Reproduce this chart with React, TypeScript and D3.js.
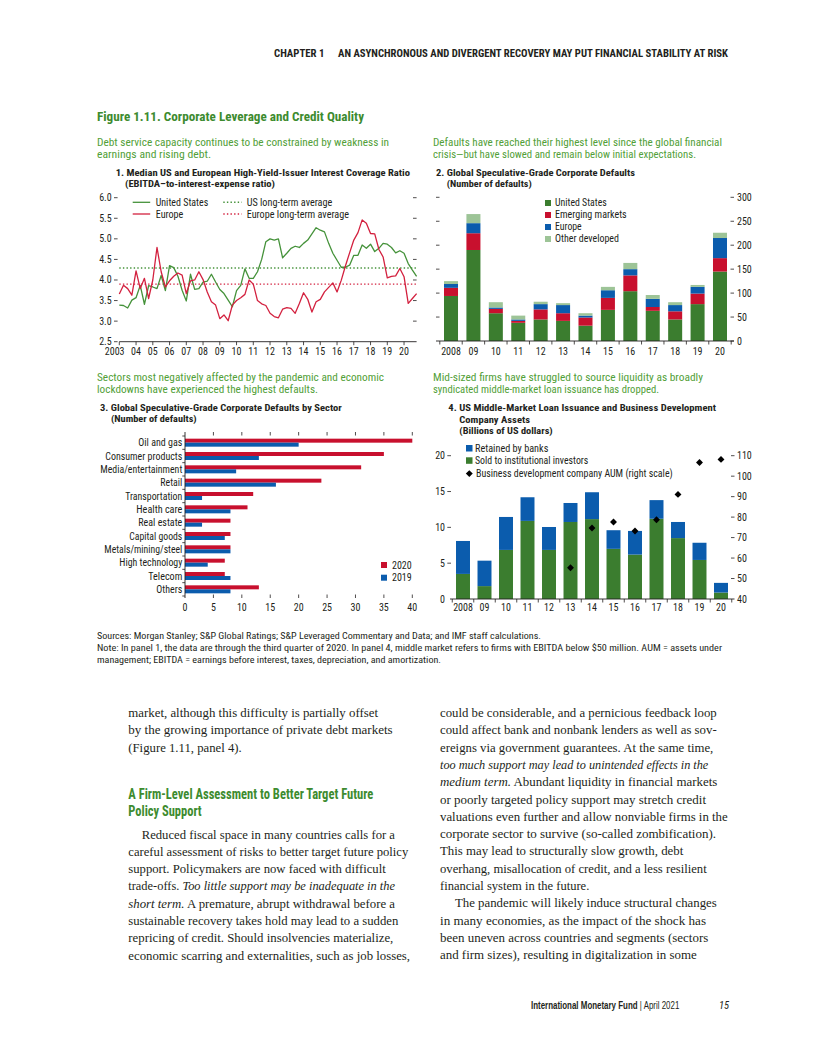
import React from "react";
import * as d3 from "d3";

const COND = '"Liberation Sans Narrow","Roboto Condensed","DejaVu Sans Condensed","Liberation Sans",Arial,sans-serif';
const SERIF = '"Liberation Serif","DejaVu Serif",serif';
const INK = "#231f20";
const TITLE_GREEN = "#3d8b2f";
const SUB_GREEN = "#52a038";

// ---------- Panel 1: interest coverage ratio (quarterly, 2003Q1 - 2020Q4 positions) ----------
const p1Quarters = d3.range(72).map((i) => 2003 + i / 4);
const usCoverage = [
  3.39, 3.38, 3.32, 3.51, 3.57, 3.87, 3.41, 3.86, 3.83, 3.79, 4.11, 3.74,
  4.35, 4.30, 4.09, 3.75, 3.49, 4.14, 3.77, 3.79, 3.95, 3.97, 4.14, 3.95,
  3.77, 3.67, 3.51, 3.35, 3.74, 3.87, 4.27, 4.04, 4.04, 4.20, 4.50, 4.93,
  5.00, 4.97, 5.00, 4.54, 4.65, 4.77, 4.82, 4.79, 4.89, 4.97, 5.12, 5.27,
  5.21, 5.17, 4.89, 4.65, 4.48, 4.31, 4.31, 4.36, 4.60, 4.60, 4.85, 4.77,
  4.87, 4.69, 4.77, 4.89, 4.87, 4.79, 4.66, 4.71, 4.65, 4.40, 4.24, 4.09,
];
const euCoverage = [
  3.66, 3.87, 3.79, 3.63, 4.22, 3.79, 4.04, 3.55, 4.00, 4.79, 4.20, 3.83,
  3.98, 4.09, 4.17, 4.12, 3.67, 3.98, 4.00, 4.20, 4.01, 3.71, 3.47, 3.39,
  3.06, 3.15, 3.01, 3.39, 3.50, 3.57, 3.65, 4.00, 3.90, 3.50, 3.42, 3.38,
  3.19, 3.11, 3.08, 3.29, 3.33, 3.31, 3.19, 3.43, 3.69, 3.53, 3.22, 3.47,
  3.53, 3.71, 3.82, 3.93, 3.71, 3.99, 4.34, 4.66, 4.97, 5.15, 5.46, 5.38,
  5.13, 5.12, 4.74, 4.56, 4.05, 4.09, 4.10, 4.28, 4.08, 3.43, 3.55, 3.67,
];
const usLongTermAvg = 4.29;
const euLongTermAvg = 3.9;
const p1Years = d3.range(2003, 2021);
const p1YearLabels = ["2003", "04", "05", "06", "07", "08", "09", "10", "11", "12", "13", "14", "15", "16", "17", "18", "19", "20"];
const p1YTicks = [2.5, 3.0, 3.5, 4.0, 4.5, 5.0, 5.5, 6.0];

// ---------- Panel 2: global spec-grade defaults ----------
const p2Years = ["2008", "09", "10", "11", "12", "13", "14", "15", "16", "17", "18", "19", "20"];
const defUS = [94, 190, 58, 38, 45, 42, 32, 65, 104, 63, 45, 77, 145];
const defEM = [17, 35, 9, 4, 21, 16, 17, 25, 33, 8, 17, 22, 28];
const defEurope = [8, 21, 3, 3, 11, 17, 4, 16, 13, 17, 13, 14, 42];
const defOther = [6, 19, 11, 8, 5, 4, 5, 7, 13, 8, 6, 4, 11];
const p2YTicks = [0, 50, 100, 150, 200, 250, 300];

// ---------- Panel 3: defaults by sector ----------
const sectors = ["Oil and gas", "Consumer products", "Media/entertainment", "Retail", "Transportation", "Health care", "Real estate", "Capital goods", "Metals/mining/steel", "High technology", "Telecom", "Others"];
const sectorWidths = [44, 77, 82, 22, 57, 46, 44, 53, 78, 63, 34, 26];
const sector2020 = [40, 35, 31, 24, 12, 11, 8, 8, 8, 7, 7, 13];
const sector2019 = [20, 13, 9, 16, 3, 8, 3, 7, 8, 4, 8, 8];
const p3XTicks = [0, 5, 10, 15, 20, 25, 30, 35, 40];

// ---------- Panel 4: middle-market loans ----------
const p4Years = ["2008", "09", "10", "11", "12", "13", "14", "15", "16", "17", "18", "19", "20"];
const soldInstitutional = [3.5, 1.8, 6.85, 10.9, 6.85, 10.75, 11.15, 7.0, 6.2, 11.2, 8.5, 5.45, 0.9];
const retainedBanks = [4.6, 3.55, 4.6, 3.3, 3.2, 2.65, 3.75, 2.6, 3.3, 2.6, 2.25, 2.4, 1.35];
const bdcYears = ["13", "14", "15", "16", "17", "18", "19", "20"];
const bdcAum = [55.3, 74.7, 77.6, 73.2, 78.7, 91.1, 106.7, 108.2];
const p4LeftTicks = [0, 5, 10, 15, 20];
const p4RightTicks = [40, 50, 60, 70, 80, 90, 100, 110];

const C = {
  usLine: "#45923a",
  euLine: "#d3213f",
  green: "#3b7d2f",
  red: "#c8102e",
  blue: "#0b5cad",
  lightGreen: "#9dc497",
};

function T(props: any) {
  const { x, y, w, size = 10, weight, anchor, fill = INK, family = COND, italic, children } = props;
  return (
    <text
      x={x}
      y={y}
      fontSize={size}
      fontWeight={weight}
      textAnchor={anchor}
      fill={fill}
      fontFamily={family}
      fontStyle={italic ? "italic" : undefined}
      textLength={w}
      lengthAdjust={w ? "spacingAndGlyphs" : undefined}
    >
      {children}
    </text>
  );
}

function BL(props: any) {
  return (
    <text x={props.x} y={props.y} fontFamily={SERIF} fontSize={12.5} fill={INK} textLength={props.w} lengthAdjust="spacingAndGlyphs">
      {props.children}
    </text>
  );
}
const I = (p: any) => <tspan fontStyle="italic">{p.children}</tspan>;

export default function App() {
  // Panel 1 scales
  const x1 = d3.scaleLinear().domain([2003, 2020.75]).range([119.3, 416.6]);
  const y1 = d3.scaleLinear().domain([2.5, 6]).range([341.7, 197.7]);
  const line1 = d3
    .line<number>()
    .x((_, i) => x1(p1Quarters[i]))
    .y((d) => y1(d));

  // Panel 2
  const x2 = d3.scaleBand<string>().domain(p2Years).range([439.8, 731.2]);
  const y2 = d3.scaleLinear().domain([0, 300]).range([341, 197.3]);
  const rows2 = p2Years.map((yr, i) => ({ yr, us: defUS[i], em: defEM[i], eu: defEurope[i], oth: defOther[i] }));
  const stack2 = d3.stack<any>().keys(["us", "em", "eu", "oth"])(rows2);
  const col2: Record<string, string> = { us: C.green, em: C.red, eu: C.blue, oth: C.lightGreen };
  const bw2 = x2.bandwidth() * 0.625;

  // Panel 3
  const x3 = d3.scaleLinear().domain([0, 40]).range([185, 412.3]);
  const y3 = d3.scaleBand<string>().domain(sectors).range([436, 596]);

  // Panel 4
  const x4 = d3.scaleBand<string>().domain(p4Years).range([452.25, 731.75]);
  const y4 = d3.scaleLinear().domain([0, 20]).range([599, 455.7]);
  const y4r = d3.scaleLinear().domain([40, 110]).range([599, 455.7]);
  const rows4 = p4Years.map((yr, i) => ({ yr, sold: soldInstitutional[i], ret: retainedBanks[i] }));
  const stack4 = d3.stack<any>().keys(["sold", "ret"])(rows4);
  const col4: Record<string, string> = { sold: C.green, ret: C.blue };
  const bw4 = x4.bandwidth() * 0.65;
  const diamond = d3.symbol().type(d3.symbolSquare).size(24)() as string;

  const legendLine = (x: number, y: number, w: number, color: string, dotted?: boolean) => (
    <line x1={x} x2={x + w} y1={y} y2={y} stroke={color} strokeWidth={dotted ? 1.4 : 1.3} strokeDasharray={dotted ? "1.4 2.2" : undefined} />
  );

  return (
    <svg width={816} height={1056} style={{ position: "absolute", left: 0, top: 0, background: "#fff" }}>
      {/* Running header */}
      <T x={274} y={56.7} size={11.5} weight="bold" w={50.5}>CHAPTER 1</T>
      <T x={338} y={56.7} size={11.5} weight="bold" w={390}>AN ASYNCHRONOUS AND DIVERGENT RECOVERY MAY PUT FINANCIAL STABILITY AT RISK</T>

      {/* Figure title */}
      <T x={97} y={120.5} size={13.5} weight="bold" fill={TITLE_GREEN} w={267}>Figure 1.11. Corporate Leverage and Credit Quality</T>

      {/* Subtitles */}
      <T x={97} y={145.5} size={10.5} fill={SUB_GREEN} w={292}>Debt service capacity continues to be constrained by weakness in</T>
      <T x={97} y={157.5} size={10.5} fill={SUB_GREEN} w={114}>earnings and rising debt.</T>
      <T x={433} y={145.5} size={10.5} fill={SUB_GREEN} w={289}>Defaults have reached their highest level since the global financial</T>
      <T x={433} y={157.5} size={10.5} fill={SUB_GREEN} w={263}>crisis—but have slowed and remain below initial expectations.</T>
      <T x={97} y={380.5} size={10.5} fill={SUB_GREEN} w={287}>Sectors most negatively affected by the pandemic and economic</T>
      <T x={97} y={392.5} size={10.5} fill={SUB_GREEN} w={221}>lockdowns have experienced the highest defaults.</T>
      <T x={433} y={380.5} size={10.5} fill={SUB_GREEN} w={270}>Mid-sized firms have struggled to source liquidity as broadly</T>
      <T x={433} y={392.5} size={10.5} fill={SUB_GREEN} w={226}>syndicated middle-market loan issuance has dropped.</T>

      {/* ---------- Panel 1 ---------- */}
      <T x={115.7} y={175.7} size={9.5} weight="bold" w={294.3}>1. Median US and European High-Yield-Issuer Interest Coverage Ratio</T>
      <T x={125} y={187.3} size={9.5} weight="bold" w={150}>(EBITDA–to-interest-expense ratio)</T>
      {p1YTicks.map((t) => (
        <g key={"p1y" + t}>
          <T x={111.7} y={y1(t) + 3.5} size={10} anchor="end">{t.toFixed(1)}</T>
          <line x1={114} x2={117.6} y1={y1(t)} y2={y1(t)} stroke={INK} strokeWidth={0.8} />
          {t > 2.5 && <line x1={413} x2={416.6} y1={y1(t)} y2={y1(t)} stroke={INK} strokeWidth={0.8} />}
        </g>
      ))}
      <line x1={x1(2003)} x2={x1(2020.75)} y1={y1(2.5)} y2={y1(2.5)} stroke={INK} strokeWidth={0.9} />
      {p1Years.map((yr, i) => (
        <g key={"p1x" + yr}>
          <line x1={x1(yr)} x2={x1(yr)} y1={y1(2.5)} y2={y1(2.5) + 3.5} stroke={INK} strokeWidth={0.8} />
          <T x={x1(yr) - (i === 0 ? 4.6 : 0)} y={355} size={10} anchor="middle">{p1YearLabels[i]}</T>
        </g>
      ))}
      <line x1={x1(2003)} x2={x1(2020.75)} y1={y1(usLongTermAvg)} y2={y1(usLongTermAvg)} stroke={C.usLine} strokeWidth={1.4} strokeDasharray="1.4 2.2" />
      <line x1={x1(2003)} x2={x1(2020.75)} y1={y1(euLongTermAvg)} y2={y1(euLongTermAvg)} stroke={C.euLine} strokeWidth={1.4} strokeDasharray="1.4 2.2" />
      <path d={line1(usCoverage) as string} fill="none" stroke={C.usLine} strokeWidth={1.3} strokeLinejoin="round" />
      <path d={line1(euCoverage) as string} fill="none" stroke={C.euLine} strokeWidth={1.3} strokeLinejoin="round" />
      {legendLine(132.7, 202.3, 17.5, C.usLine)}
      {legendLine(132.7, 214, 17.5, C.euLine)}
      <T x={155.7} y={205.9} size={10} w={52.6}>United States</T>
      <T x={155.7} y={217.6} size={10} w={27.6}>Europe</T>
      {legendLine(223.3, 202.3, 18.4, C.usLine, true)}
      {legendLine(223.3, 214, 18.4, C.euLine, true)}
      <T x={246.7} y={205.9} size={10} w={85.6}>US long-term average</T>
      <T x={246.7} y={217.6} size={10} w={102.3}>Europe long-term average</T>

      {/* ---------- Panel 2 ---------- */}
      <T x={436} y={175.7} size={9.5} weight="bold" w={199}>2. Global Speculative-Grade Corporate Defaults</T>
      <T x={446.7} y={187.3} size={9.5} weight="bold" w={85}>(Number of defaults)</T>
      {stack2.map((s) =>
        s.map((d: any, i: number) => (
          <rect
            key={s.key + i}
            x={(x2(p2Years[i]) as number) + x2.bandwidth() / 2 - bw2 / 2}
            width={bw2}
            y={y2(d[1])}
            height={y2(d[0]) - y2(d[1])}
            fill={col2[s.key as string]}
          />
        ))
      )}
      {p2YTicks.map((t) => (
        <g key={"p2y" + t}>
          {t > 0 && <line x1={436} x2={439.5} y1={y2(t)} y2={y2(t)} stroke={INK} strokeWidth={0.8} />}
          <line x1={730.5} x2={734} y1={y2(t)} y2={y2(t)} stroke={INK} strokeWidth={0.8} />
          <T x={737} y={y2(t) + 3.5} size={10}>{String(t)}</T>
        </g>
      ))}
      <line x1={436} x2={734} y1={y2(0)} y2={y2(0)} stroke={INK} strokeWidth={0.9} />
      {p2Years.map((yr) => (
        <g key={"p2x" + yr}>
          <line x1={x2(yr) as number} x2={x2(yr) as number} y1={y2(0)} y2={y2(0) + 3.5} stroke={INK} strokeWidth={0.8} />
          <T x={(x2(yr) as number) + x2.bandwidth() / 2} y={354.5} size={10} anchor="middle">{yr}</T>
        </g>
      ))}
      <line x1={731.2} x2={731.2} y1={y2(0)} y2={y2(0) + 3.5} stroke={INK} strokeWidth={0.8} />
      {[
        ["United States", C.green, 51.7],
        ["Emerging markets", C.red, 71.7],
        ["Europe", C.blue, 26.7],
        ["Other developed", C.lightGreen, 64],
      ].map((d, i) => (
        <g key={"l2" + i}>
          <rect x={545} y={200 + i * 12} width={6} height={6} fill={d[1] as string} />
          <T x={555} y={205.9 + i * 12} size={10} w={d[2]}>{d[0]}</T>
        </g>
      ))}

      {/* ---------- Panel 3 ---------- */}
      <T x={100} y={410.7} size={9.5} weight="bold" w={241.7}>3. Global Speculative-Grade Corporate Defaults by Sector</T>
      <T x={111} y={422.3} size={9.5} weight="bold" w={85.7}>(Number of defaults)</T>
      {sectors.map((s, i) => {
        const c = (y3(s) as number) + y3.bandwidth() / 2;
        return (
          <g key={"p3" + s}>
            <rect x={x3(0)} y={c - 4} width={x3(sector2020[i]) - x3(0)} height={4} fill={C.red} />
            <rect x={x3(0)} y={c} width={x3(sector2019[i]) - x3(0)} height={4} fill={C.blue} />
            <T x={182.3} y={c + 3.5} size={10} anchor="end" w={sectorWidths[i]}>{s}</T>
            <line x1={182.3} x2={185} y1={y3(s) as number} y2={y3(s) as number} stroke={INK} strokeWidth={0.8} />
          </g>
        );
      })}
      <line x1={182.3} x2={185} y1={596} y2={596} stroke={INK} strokeWidth={0.8} />
      <line x1={185} x2={185} y1={432} y2={598} stroke={INK} strokeWidth={0.9} />
      {p3XTicks.map((t) => (
        <g key={"p3x" + t}>
          {t > 0 && <line x1={x3(t)} x2={x3(t)} y1={432} y2={435.5} stroke={INK} strokeWidth={0.8} />}
          {t > 0 && <line x1={x3(t)} x2={x3(t)} y1={594.5} y2={598} stroke={INK} strokeWidth={0.8} />}
          <T x={x3(t)} y={611} size={10} anchor="middle">{String(t)}</T>
        </g>
      ))}
      <rect x={381} y={562} width={6} height={6} fill={C.red} />
      <T x={392} y={568.5} size={10}>2020</T>
      <rect x={381} y={574.7} width={6} height={6} fill={C.blue} />
      <T x={392} y={581.2} size={10}>2019</T>

      {/* ---------- Panel 4 ---------- */}
      <T x={448.3} y={410.7} size={9.5} weight="bold" w={267.7}>4. US Middle-Market Loan Issuance and Business Development</T>
      <T x={459.3} y={422.5} size={9.5} weight="bold" w={70.7}>Company Assets</T>
      <T x={459.3} y={434.3} size={9.5} weight="bold" w={93.4}>(Billions of US dollars)</T>
      {stack4.map((s) =>
        s.map((d: any, i: number) => (
          <rect
            key={s.key + i}
            x={(x4(p4Years[i]) as number) + x4.bandwidth() / 2 - bw4 / 2}
            width={bw4}
            y={y4(d[1])}
            height={y4(d[0]) - y4(d[1])}
            fill={col4[s.key as string]}
          />
        ))
      )}
      {p4LeftTicks.map((t) => (
        <g key={"p4l" + t}>
          <T x={445} y={y4(t) + 3.5} size={10} anchor="end">{String(t)}</T>
          {t > 0 && <line x1={447.3} x2={451} y1={y4(t)} y2={y4(t)} stroke={INK} strokeWidth={0.8} />}
        </g>
      ))}
      {p4RightTicks.map((t) => (
        <g key={"p4r" + t}>
          {t > 40 && <line x1={731} x2={734.5} y1={y4r(t)} y2={y4r(t)} stroke={INK} strokeWidth={0.8} />}
          <T x={737} y={y4r(t) + 3.5} size={10}>{String(t)}</T>
        </g>
      ))}
      <line x1={450} x2={734.5} y1={y4(0)} y2={y4(0)} stroke={INK} strokeWidth={0.9} />
      {p4Years.map((yr) => (
        <g key={"p4x" + yr}>
          <line x1={x4(yr) as number} x2={x4(yr) as number} y1={y4(0)} y2={y4(0) + 3.5} stroke={INK} strokeWidth={0.8} />
          <T x={(x4(yr) as number) + x4.bandwidth() / 2} y={611} size={10} anchor="middle">{yr}</T>
        </g>
      ))}
      <line x1={731.75} x2={731.75} y1={y4(0)} y2={y4(0) + 3.5} stroke={INK} strokeWidth={0.8} />
      {bdcYears.map((yr, i) => (
        <path
          key={"bdc" + yr}
          d={diamond}
          transform={`translate(${(x4(yr) as number) + x4.bandwidth() / 2},${y4r(bdcAum[i])}) rotate(45)`}
          fill="#000"
        />
      ))}
      <rect x={466} y={445} width={6.5} height={6.5} fill={C.blue} />
      <T x={475} y={451.7} size={10} w={73.3}>Retained by banks</T>
      <rect x={466} y={457.3} width={6.5} height={6.5} fill={C.green} />
      <T x={475} y={464} size={10} w={113.3}>Sold to institutional investors</T>
      <path d={diamond} transform="translate(469.3,473.6) rotate(45)" fill="#000" />
      <T x={476} y={476.7} size={10} w={196.7}>Business development company AUM (right scale)</T>

      {/* Sources and notes */}
      <T x={97} y={638.5} size={9} w={444}>Sources: Morgan Stanley; S&amp;P Global Ratings; S&amp;P Leveraged Commentary and Data; and IMF staff calculations.</T>
      <T x={97} y={650.5} size={9} w={625}>Note: In panel 1, the data are through the third quarter of 2020. In panel 4, middle market refers to firms with EBITDA below $50 million. AUM = assets under</T>
      <T x={97} y={662.5} size={9} w={344}>management; EBITDA = earnings before interest, taxes, depreciation, and amortization.</T>

      {/* Body text, left column */}
      <BL x={128.3} y={717} w={249.7}>market, although this difficulty is partially offset</BL>
      <BL x={128.3} y={734.3} w={264.4}>by the growing importance of private debt markets</BL>
      <BL x={128.3} y={751.6} w={113.4}>(Figure 1.11, panel 4).</BL>
      <T x={128.3} y={799} size={14.5} weight="bold" fill={TITLE_GREEN} w={245}>A Firm-Level Assessment to Better Target Future</T>
      <T x={128.3} y={815.5} size={14.5} weight="bold" fill={TITLE_GREEN} w={73.4}>Policy Support</T>
      <BL x={141.7} y={838.5} w={253.3}>Reduced fiscal space in many countries calls for a</BL>
      <BL x={128.3} y={855.8} w={280}>careful assessment of risks to better target future policy</BL>
      <BL x={128.3} y={873.1} w={257.4}>support. Policymakers are now faced with difficult</BL>
      <BL x={128.3} y={890.4} w={266.7}>trade-offs. <I>Too little support may be inadequate in the</I></BL>
      <BL x={128.3} y={907.7} w={266.7}><I>short term.</I> A premature, abrupt withdrawal before a</BL>
      <BL x={128.3} y={925} w={270}>sustainable recovery takes hold may lead to a sudden</BL>
      <BL x={128.3} y={942.3} w={265}>repricing of credit. Should insolvencies materialize,</BL>
      <BL x={128.3} y={959.6} w={281.7}>economic scarring and externalities, such as job losses,</BL>

      {/* Body text, right column */}
      <BL x={440} y={717} w={276.7}>could be considerable, and a pernicious feedback loop</BL>
      <BL x={440} y={734.3} w={276.7}>could affect bank and nonbank lenders as well as sov-</BL>
      <BL x={440} y={751.6} w={273.3}>ereigns via government guarantees. At the same time,</BL>
      <BL x={440} y={768.9} w={268.3}><I>too much support may lead to unintended effects in the</I></BL>
      <BL x={440} y={786.2} w={277.3}><I>medium term.</I> Abundant liquidity in financial markets</BL>
      <BL x={440} y={803.5} w={266}>or poorly targeted policy support may stretch credit</BL>
      <BL x={440} y={820.8} w={287.7}>valuations even further and allow nonviable firms in the</BL>
      <BL x={440} y={838.1} w={276}>corporate sector to survive (so-called zombification).</BL>
      <BL x={440} y={855.4} w={243.3}>This may lead to structurally slow growth, debt</BL>
      <BL x={440} y={872.7} w={266.7}>overhang, misallocation of credit, and a less resilient</BL>
      <BL x={440} y={890} w={149.3}>financial system in the future.</BL>
      <BL x={455} y={907.3} w={261.7}>The pandemic will likely induce structural changes</BL>
      <BL x={440} y={924.6} w={266}>in many economies, as the impact of the shock has</BL>
      <BL x={440} y={941.9} w={268.3}>been uneven across countries and segments (sectors</BL>
      <BL x={440} y={959.2} w={256.7}>and firm sizes), resulting in digitalization in some</BL>

      {/* Footer */}
      <g transform="translate(531,1009) scale(0.794,1)">
        <text x={0} y={0} fontFamily={'"Liberation Sans",Arial,sans-serif'} fontSize={10} fill={INK}>
          <tspan fontWeight="bold">International Monetary Fund</tspan>
          <tspan> | April 2021</tspan>
        </text>
      </g>
      <T x={719} y={1009} size={10.5} italic>15</T>
    </svg>
  );
}
